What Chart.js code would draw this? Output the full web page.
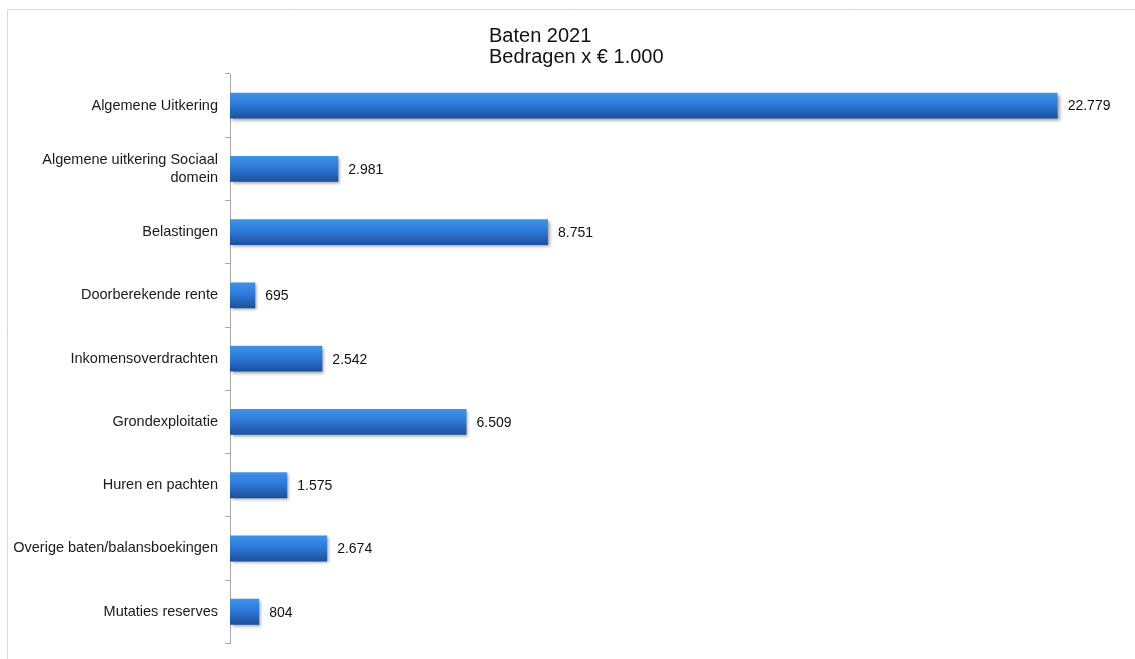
<!DOCTYPE html>
<html>
<head>
<meta charset="utf-8">
<script src="https://cdn.jsdelivr.net/npm/chart.js@4"></script>
<style>
  html, body { margin: 0; padding: 0; background: #fff; }
  #wrap { position: relative; width: 1135px; height: 659px; }
</style>
</head>
<body>
<div id="wrap"><canvas id="myChart"></canvas></div>
<script>
// gegevens
const titel = ["Baten 2021", "Bedragen x € 1.000"];
const categorieen = [
  "Algemene Uitkering",
  ["Algemene uitkering Sociaal", "domein"],
  "Belastingen",
  "Doorberekende rente",
  "Inkomensoverdrachten",
  "Grondexploitatie",
  "Huren en pachten",
  "Overige baten/balansboekingen",
  "Mutaties reserves"
];
const bedragen = [22779, 2981, 8751, 695, 2542, 6509, 1575, 2674, 804];

const ctx = document.querySelector("#myChart");

function formatNL(v) { // 22779 -> 22.779
  return String(v).replace(/\B(?=(\d{3})+(?!\d))/g, ".");
}

// rand + titel
const achtergrond = {
  id: "achtergrond",
  beforeDraw(chart) {
    const c = chart.ctx;
    c.save();
    c.strokeStyle = "#d9d9d9";
    c.lineWidth = 1;
    c.beginPath();
    c.moveTo(7.5, 660);
    c.lineTo(7.5, 9.5);
    c.lineTo(1135, 9.5);
    c.stroke();
    c.fillStyle = "#111";
    c.font = "20px 'Liberation Sans', Arial, sans-serif";
    c.textAlign = "left";
    c.textBaseline = "alphabetic";
    c.fillText(titel[0], 489, 42);
    c.fillText(titel[1], 489, 63);
    c.restore();
  }
};

// schaduw onder de balken
const schaduw = {
  id: "schaduw",
  beforeDatasetsDraw(chart) {
    const c = chart.ctx;
    c.save();
    c.shadowColor = "rgba(0,0,0,0.35)";
    c.shadowOffsetX = 2;
    c.shadowOffsetY = 2;
    c.shadowBlur = 3;
  },
  afterDatasetsDraw(chart) {
    chart.ctx.restore();
  }
};

// waarden naast de balken
const waarden = {
  id: "waarden",
  afterDatasetsDraw(chart) {
    const c = chart.ctx;
    const meta = chart.getDatasetMeta(0);
    c.save();
    c.fillStyle = "#111";
    c.font = "14px 'Liberation Sans', Arial, sans-serif";
    c.textAlign = "left";
    c.textBaseline = "middle";
    meta.data.forEach((bar, i) => {
      c.fillText(formatNL(bedragen[i]), bar.x + 10, bar.y + 1);
    });
    c.restore();
  }
};

new Chart(ctx, {
  type: "bar",
  data: {
    labels: categorieen,
    datasets: [{
      data: bedragen,
      barPercentage: 0.82,
      categoryPercentage: 0.5,
      borderWidth: 0,
      backgroundColor: (context) => {
        const chart = context.chart;
        const y = chart.scales.y;
        if (!y || context.dataIndex === undefined) return "#2a6fcc";
        const mid = y.getPixelForValue(context.dataIndex);
        if (!isFinite(mid)) return "#2a6fcc";
        const g = chart.ctx.createLinearGradient(0, mid - 13, 0, mid + 13);
        g.addColorStop(0, "#3f92ea");
        g.addColorStop(0.45, "#2f7ad8");
        g.addColorStop(1, "#1b4f9c");
        return g;
      }
    }]
  },
  options: {
    indexAxis: "y",
    responsive: true,
    maintainAspectRatio: false,
    animation: false,
    layout: { padding: { top: 74, right: 33, bottom: 8, left: 0 } },
    plugins: {
      legend: { display: false },
      title: { display: false },
      tooltip: { enabled: false }
    },
    scales: {
      x: {
        display: false,
        min: 0,
        max: 24000
      },
      y: {
        afterFit(scale) { scale.width = 230; },
        border: { display: true, color: "#a6a6a6", width: 1 },
        grid: {
          display: true,
          drawOnChartArea: false,
          drawTicks: true,
          tickLength: 5,
          color: "#a6a6a6",
          offset: true
        },
        ticks: {
          color: "#1a1a1a",
          padding: 7,
          font: { family: "'Liberation Sans', Arial, sans-serif", size: 14.5 }
        }
      }
    }
  },
  plugins: [achtergrond, schaduw, waarden]
});
</script>
</body>
</html>
